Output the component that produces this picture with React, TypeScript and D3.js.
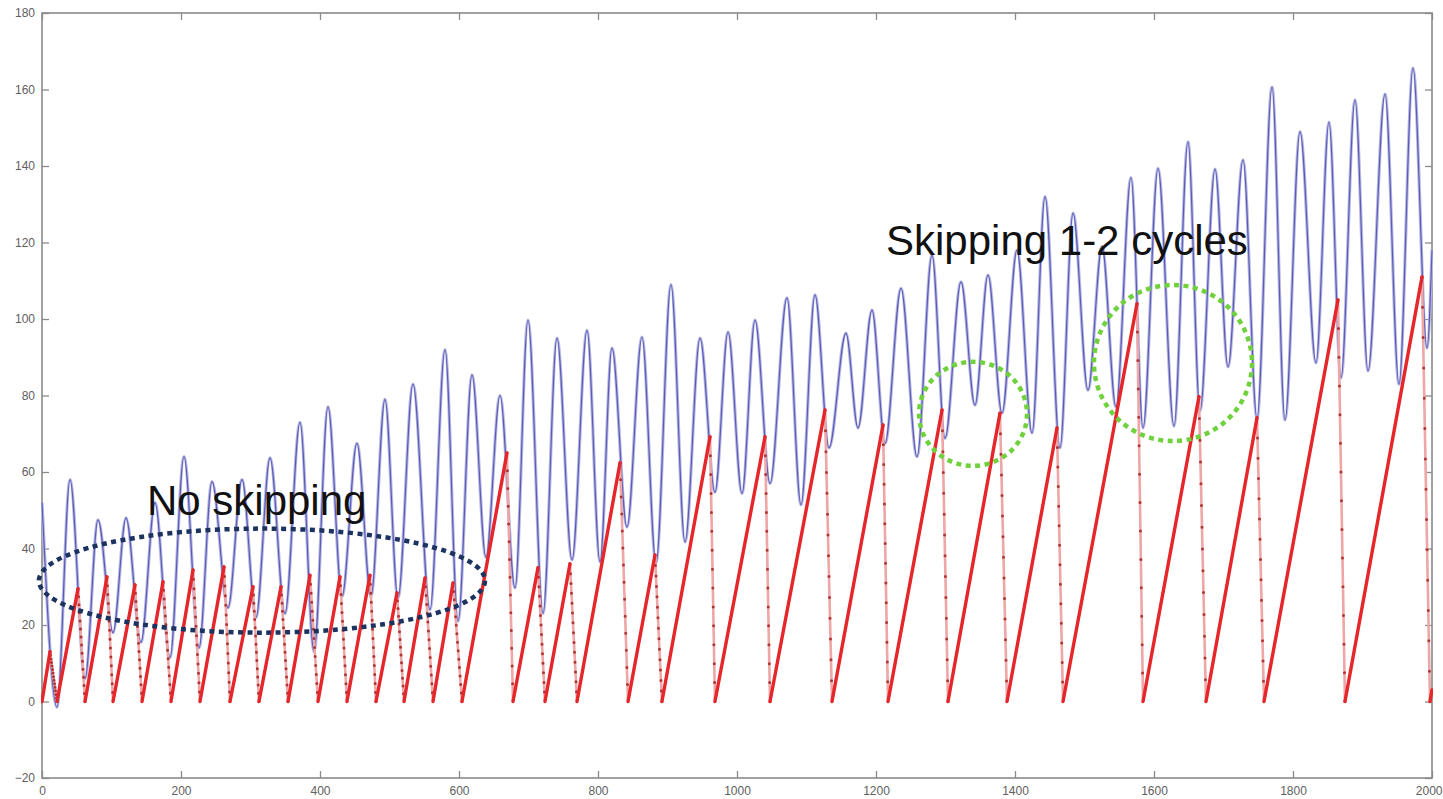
import React, { useRef, useEffect } from 'react'
import * as d3 from 'd3'

// blue signal (x, value)
const blueX = [0, 21.6, 40.3, 61.9, 80.6, 102.2, 120.9, 142.4, 162.6, 184.2, 204.3, 225.9, 244.6, 267.6, 287.8, 307.9, 328.1, 349.6, 371.2, 391.4, 411.5, 431.7, 453.2, 473.4, 493.5, 512.2, 533.8, 558.3, 579.9, 598.6, 618.7, 638.8, 659, 680.6, 699.3, 720.9, 741, 762.6, 784.2, 802.9, 820.1, 841.7, 863.3, 883.5, 905, 925.2, 946.8, 968.3, 987.1, 1007.2, 1025.9, 1047.5, 1071.9, 1092.1, 1112.2, 1132.4, 1156.8, 1174.1, 1194.2, 1213, 1236, 1259, 1280.6, 1299.3, 1322.3, 1342.4, 1361.2, 1381.3, 1402.9, 1424.5, 1443.2, 1464.7, 1483.5, 1505, 1525.2, 1545.3, 1566.9, 1584.2, 1605.8, 1628.8, 1648.9, 1666.2, 1687.8, 1706.5, 1728.1, 1748.2, 1769.8, 1788.5, 1810.1, 1833.1, 1851.8, 1869.1, 1889.2, 1907.9, 1932.4, 1952.5, 1972.7, 1992.8, 2000]
const blueY = [52, -1.5, 58, 6, 47.5, 18, 48, 15.5, 52, 11.5, 64, 14, 57.5, 24.5, 58, 22, 63.7, 23, 73, 13, 77, 27.5, 67.5, 27.5, 79, 27, 83, 24, 92, 21, 85.4, 37.7, 80, 29.7, 99.7, 23, 95, 37, 97, 36.5, 92.4, 45.6, 95.3, 36.2, 109, 41.7, 95, 54.7, 96.6, 54.4, 99.7, 57, 105.5, 51.4, 106.3, 66.3, 96.3, 71.5, 102.3, 67.5, 108, 64, 116.7, 68.8, 109.7, 77.5, 111.5, 75.4, 118, 70.2, 132, 66.3, 127.7, 81.4, 119, 77, 137, 71.5, 139.4, 72, 146.3, 76, 139.2, 87.5, 141.6, 74, 160.6, 73.6, 149, 88.5, 151.5, 84.6, 157.3, 86.4, 158.8, 83, 165.6, 92.4, 118]

// red sawtooth: ramp tops and the x where it drops back to 0
const redPeakX = [11.5, 51.8, 93.5, 133.8, 174.1, 217.3, 261.9, 303.6, 343.9, 385.6, 428.8, 471.9, 510.8, 551.1, 591.4, 669, 713.7, 759.7, 831.7, 882, 961.2, 1040.3, 1126.6, 1210.1, 1295, 1378.4, 1460.4, 1575.5, 1664.7, 1748.2, 1864.7, 1985.6, 2000]
const redPeakY = [13, 29.5, 32.6, 30.5, 31.3, 34.4, 35.2, 30, 30, 33, 32.6, 33, 28.4, 32.3, 31, 65, 35, 36, 62.4, 38.3, 69.2, 69.2, 76.2, 72.3, 76.2, 75.4, 71.5, 104, 79.7, 74.2, 105, 111, 3]
const redResetX = [21.6, 61.9, 102.2, 143.9, 185.6, 227.3, 270.5, 312.2, 354, 397.1, 438.8, 480.6, 520.9, 562.6, 604.3, 677.7, 723.7, 769.8, 843.2, 892, 968.3, 1047.5, 1136.7, 1217.3, 1303.6, 1388.5, 1469.1, 1584.2, 1674.8, 1758.3, 1874.8, 1997.1]

const xTicks = [0, 200, 400, 600, 800, 1000, 1200, 1400, 1600, 1800, 2000]
const yTicks = [-20, 0, 20, 40, 60, 80, 100, 120, 140, 160, 180]

// annotations, in data units
const labels = [
    { text: 'No skipping', x: 151, y: 48.8 },
    { text: 'Skipping 1-2 cycles', x: 1214.4, y: 116.7 },
]
const rings = [
    { cx: 316.5, cy: 31.6, rx: 320.9, ry: 13.6, color: '#1c3360' },
    { cx: 1339.6, cy: 75.2, rx: 77.7, ry: 13.6, color: '#6fd13c' },
    { cx: 1627.3, cy: 88.5, rx: 113.7, ry: 20.4, color: '#6fd13c' },
]

const App = () => {
    const visEl = useRef<HTMLDivElement>(null)
    const width = 1443
    const height = 799

    useEffect(() => {
        const root = d3.select(visEl.current)
        root.selectAll('*').remove()
        const svg = root.append('svg')
            .attr('width', width)
            .attr('height', height)
            .style('position', 'absolute')
            .style('left', 0)
            .style('top', 0)
            .style('background', '#fff')

        const margin = { top: 13, right: 11, bottom: 21, left: 42 }
        const innerWidth = width - margin.left - margin.right
        const innerHeight = height - margin.top - margin.bottom

        const x = d3.scaleLinear().domain([0, 2000]).range([0, innerWidth])
        const y = d3.scaleLinear().domain([-20, 180]).range([innerHeight, 0])

        const g = svg.append('g').attr('transform', `translate(${margin.left},${margin.top})`)

        const styleAxis = (sel: any) => {
            sel.select('.domain').remove()
            sel.selectAll('.tick line').attr('stroke', '#8a8a8a').attr('stroke-width', 1.3)
            sel.selectAll('.tick text')
                .attr('fill', '#606060')
                .style('font-family', '"Liberation Sans", Arial, sans-serif')
                .style('font-size', '12px')
        }

        const xAxisG = g.append('g').attr('transform', `translate(0,${innerHeight})`)
            .call(d3.axisBottom(x).tickValues(xTicks).tickSize(-7).tickPadding(8).tickFormat(d3.format('d')))
            .call(styleAxis)
        // last label sits at the page edge: pull it in so it stays readable
        xAxisG.selectAll('.tick text').filter((d: any) => d === 2000)
            .attr('text-anchor', 'end').attr('dx', 10)

        g.append('g')
            .call(d3.axisTop(x).tickValues(xTicks).tickSize(-7).tickFormat(() => ''))
            .call(styleAxis)
        g.append('g')
            .call(d3.axisLeft(y).tickValues(yTicks).tickSize(-7).tickPadding(7).tickFormat(d3.format('d')))
            .call(styleAxis)
        g.append('g').attr('transform', `translate(${innerWidth},0)`)
            .call(d3.axisRight(y).tickValues(yTicks).tickSize(-7).tickFormat(() => ''))
            .call(styleAxis)

        g.append('rect')
            .attr('width', innerWidth).attr('height', innerHeight)
            .attr('fill', 'none').attr('stroke', '#8a8a8a').attr('stroke-width', 1.6)

        svg.append('clipPath').attr('id', 'plot-clip')
            .append('rect').attr('width', innerWidth + 2).attr('height', innerHeight).attr('x', -1)
        const plot = g.append('g').attr('clip-path', 'url(#plot-clip)')

        // blue signal
        const blue = blueX.map((v, i) => [v, blueY[i]] as [number, number])
        const blueLine = d3.line<[number, number]>()
            .x(d => x(d[0]))
            .y(d => y(d[1]))
            .curve(d3.curveMonotoneX)
        plot.append('path').attr('d', blueLine(blue))
            .attr('fill', 'none').attr('stroke', '#b8b8e2').attr('stroke-width', 3.2)
        plot.append('path').attr('d', blueLine(blue))
            .attr('fill', 'none').attr('stroke', '#5c5cb8').attr('stroke-width', 1.2)

        const seg = d3.line<[number, number]>().x(d => x(d[0])).y(d => y(d[1]))

        // red drops: light band with sample markers
        const drops = redResetX.map((rx, i) => [[redPeakX[i], redPeakY[i]], [rx, 0]] as [number, number][])
        plot.selectAll('.drop').data(drops).enter().append('path')
            .attr('class', 'drop')
            .attr('d', d => seg(d))
            .attr('fill', 'none').attr('stroke', '#eea6a6').attr('stroke-width', 2.6)
        plot.selectAll('.drop-dots').data(drops).enter().append('path')
            .attr('class', 'drop-dots')
            .attr('d', d => seg(d))
            .attr('pathLength', 14)
            .attr('fill', 'none').attr('stroke', '#b23434').attr('stroke-width', 3)
            .attr('stroke-linecap', 'round').attr('stroke-dasharray', '0 1')

        // red ramps
        const ramps = redPeakX.map((px, i) => [[i === 0 ? 0 : redResetX[i - 1], 0], [px, redPeakY[i]]] as [number, number][])
        plot.selectAll('.ramp').data(ramps).enter().append('path')
            .attr('class', 'ramp')
            .attr('d', d => seg(d))
            .attr('fill', 'none').attr('stroke', '#e5262a').attr('stroke-width', 3.4)
            .attr('stroke-linecap', 'round')

        // annotations
        g.selectAll('.ring').data(rings).enter().append('ellipse')
            .attr('class', 'ring')
            .attr('cx', d => x(d.cx)).attr('cy', d => y(d.cy))
            .attr('rx', d => x(d.cx + d.rx) - x(d.cx))
            .attr('ry', d => y(d.cy - d.ry) - y(d.cy))
            .attr('fill', 'none').attr('stroke', d => d.color)
            .attr('stroke-width', 4.5).attr('stroke-dasharray', '5 4.5')

        g.selectAll('.note').data(labels).enter().append('text')
            .attr('class', 'note')
            .attr('x', d => x(d.x)).attr('y', d => y(d.y))
            .attr('fill', '#111')
            .style('font-family', '"Liberation Sans", Arial, sans-serif')
            .style('font-size', '42px')
            .text(d => d.text)
    }, [])

    return (
        <div>
            <div ref={visEl}></div>
        </div>
    )
}

export default App
